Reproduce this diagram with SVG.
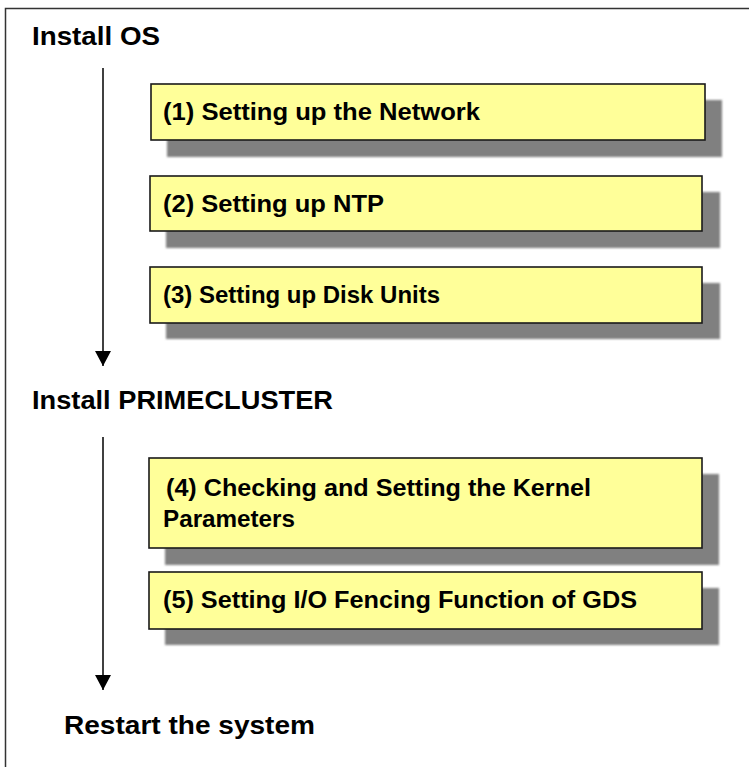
<svg xmlns="http://www.w3.org/2000/svg" width="749" height="767" viewBox="0 0 749 767">
<style>
.head{font-family:"Liberation Sans",Arial,sans-serif;font-weight:bold;font-size:25px;fill:#000}
.lbl{font-family:"Liberation Sans",Arial,sans-serif;font-weight:bold;font-size:24px;fill:#000}
.box{fill:#FFFF99;stroke:#1a1a1a;stroke-width:1.6}
.shadow{fill:#808080;filter:url(#soft)}
.line{stroke:#000;stroke-width:1.5;fill:none}
</style>
<defs>
<filter id="soft" x="-5%" y="-20%" width="110%" height="140%"><feGaussianBlur stdDeviation="0.8"/></filter>
<marker id="arr" markerWidth="16" markerHeight="16" refX="15" refY="8" orient="auto" markerUnits="userSpaceOnUse">
<path d="M0,0 L15,8 L0,16 Z" fill="#000"/>
</marker>
</defs>
<rect x="0" y="0" width="749" height="767" fill="#fff"/>
<path d="M5.5,767 V8.5 H749" fill="none" stroke="#333" stroke-width="1.5"/>
<g id="install-os"><text class="head" x="32" y="45" textLength="128" lengthAdjust="spacingAndGlyphs">Install OS</text></g>
<g id="install-primecluster"><text class="head" x="32" y="409" textLength="301" lengthAdjust="spacingAndGlyphs">Install PRIMECLUSTER</text></g>
<g id="restart"><text class="head" x="64" y="734" textLength="251" lengthAdjust="spacingAndGlyphs">Restart the system</text></g>
<g id="connectors">
<line class="line" x1="103" y1="68" x2="103" y2="366" marker-end="url(#arr)"/>
<line class="line" x1="103" y1="437" x2="103" y2="690" marker-end="url(#arr)"/>
</g>
<g id="step1">
<rect class="shadow" x="167" y="100" width="555" height="57"/>
<rect class="box" x="151" y="84" width="554" height="56"/>
<text class="lbl" x="163" y="120" textLength="317" lengthAdjust="spacingAndGlyphs">(1) Setting up the Network</text>
</g>
<g id="step2">
<rect class="shadow" x="166" y="192" width="554" height="56"/>
<rect class="box" x="150" y="176" width="552" height="55"/>
<text class="lbl" x="163" y="212" textLength="221" lengthAdjust="spacingAndGlyphs">(2) Setting up NTP</text>
</g>
<g id="step3">
<rect class="shadow" x="166" y="283" width="554" height="56"/>
<rect class="box" x="150" y="267" width="552" height="56"/>
<text class="lbl" x="163" y="303" textLength="277" lengthAdjust="spacingAndGlyphs">(3) Setting up Disk Units</text>
</g>
<g id="step4">
<rect class="shadow" x="165" y="474" width="554" height="91"/>
<rect class="box" x="149" y="458" width="553" height="90"/>
<text class="lbl" x="166" y="496" textLength="425" lengthAdjust="spacingAndGlyphs">(4) Checking and Setting the Kernel</text>
<text class="lbl" x="163" y="527" textLength="132" lengthAdjust="spacingAndGlyphs">Parameters</text>
</g>
<g id="step5">
<rect class="shadow" x="165" y="588" width="554" height="57"/>
<rect class="box" x="149" y="572" width="553" height="57"/>
<text class="lbl" x="163" y="608" textLength="474" lengthAdjust="spacingAndGlyphs">(5) Setting I/O Fencing Function of GDS</text>
</g>
</svg>
